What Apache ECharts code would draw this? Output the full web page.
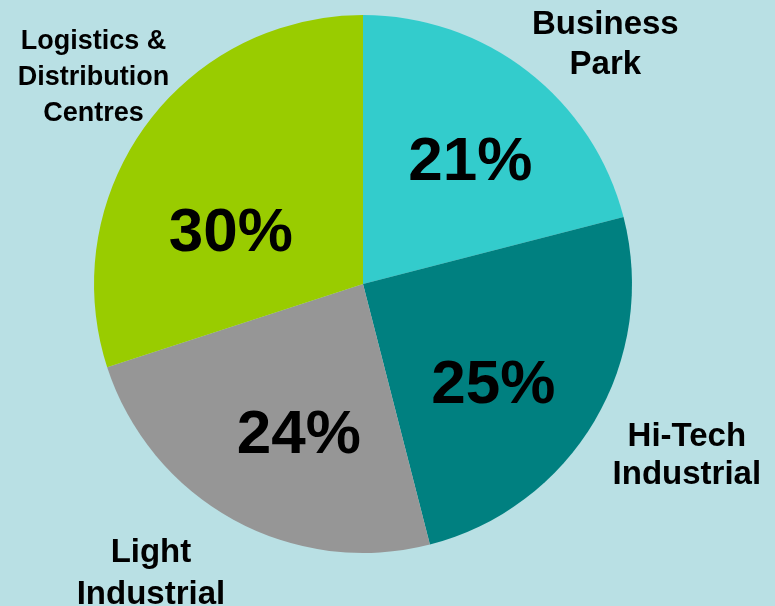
<!DOCTYPE html>
<html>
<head>
<meta charset="utf-8">
<script src="https://cdn.jsdelivr.net/npm/echarts@6/dist/echarts.min.js"></script>
<style>
html,body{margin:0;padding:0;background:#B9E0E4;}
#c{width:775px;height:606px;}
</style>
</head>
<body>
<div id="c"></div>
<script>
const categories = ['Business\nPark', 'Hi-Tech\nIndustrial', 'Light\nIndustrial', 'Logistics &\nDistribution\nCentres'];
const shares = [21, 25, 24, 30];
const colors = ['#33CCCC', '#008080', '#969696', '#99CC00'];

const pctOffsets = [[23, -12], [12, 32], [2, 31], [-21, 31]];
const catOffsets = [[26, 40], [20, -8], [-42, -19], [16, 1]];
const catFont = [33, 33, 33, 27];
const catLine = [40, 38, 42, 36];

const chart = echarts.init(document.getElementById('c'), null, {renderer: 'canvas'});
const mainData = categories.map((n, i) => ({name: n, value: shares[i], itemStyle: {color: colors[i]}}));
const labelData = categories.map((n, i) => ({
  name: n, value: shares[i],
  label: {fontSize: catFont[i], lineHeight: catLine[i]}
}));

chart.setOption({
  backgroundColor: '#B9E0E4',
  animation: false,
  series: [
    {
      type: 'pie',
      center: [363, 284],
      radius: [0, 269],
      startAngle: 90,
      clockwise: true,
      silent: true,
      data: mainData,
      itemStyle: {borderWidth: 0},
      label: {
        show: true,
        position: 'inside',
        formatter: '{c}%',
        color: '#000',
        fontFamily: 'Liberation Sans, Arial, sans-serif',
        fontWeight: 'bold',
        fontSize: 62
      },
      labelLine: {show: false},
      labelLayout: function (p) {
        const o = pctOffsets[p.dataIndex];
        return {dx: o[0], dy: o[1]};
      }
    },
    {
      type: 'pie',
      center: [363, 284],
      radius: [269, 431],
      startAngle: 90,
      clockwise: true,
      silent: true,
      data: labelData,
      itemStyle: {color: 'rgba(0,0,0,0)'},
      label: {
        show: true,
        position: 'inside',
        formatter: '{b}',
        color: '#000',
        fontFamily: 'Liberation Sans, Arial, sans-serif',
        fontWeight: 'bold',
        align: 'center'
      },
      labelLine: {show: false},
      labelLayout: function (p) {
        const o = catOffsets[p.dataIndex];
        return {dx: o[0], dy: o[1]};
      }
    }
  ]
});
</script>
</body>
</html>
